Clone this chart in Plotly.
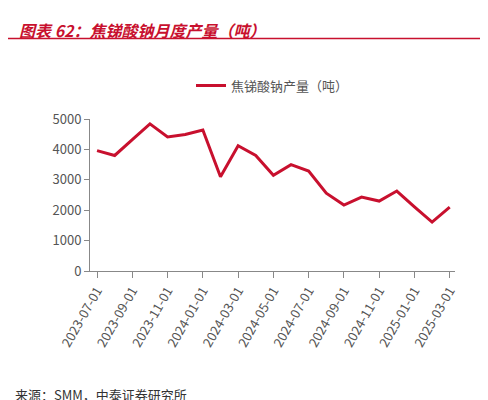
import plotly.graph_objects as go

months = ['2023-07-01', '2023-08-01', '2023-09-01', '2023-10-01', '2023-11-01', '2023-12-01',
          '2024-01-01', '2024-02-01', '2024-03-01', '2024-04-01', '2024-05-01', '2024-06-01',
          '2024-07-01', '2024-08-01', '2024-09-01', '2024-10-01', '2024-11-01', '2024-12-01',
          '2025-01-01', '2025-02-01', '2025-03-01']
output = [3960, 3800, 4320, 4840, 4410, 4490, 4640, 3100, 4120, 3800, 3150, 3500,
          3290, 2560, 2170, 2430, 2300, 2630, 2110, 1610, 2100]
tick_labels = months[::2]

fig = go.Figure()
fig.add_trace(go.Scatter(
    x=months, y=output, mode='lines', name='焦锑酸钠产量（吨）',
    line=dict(color='#C8102E', width=3)
))

fig.update_xaxes(
    type='category', tickvals=tick_labels, ticktext=tick_labels, tickangle=-60,
    showline=True, linecolor='#888', ticks='outside', tickcolor='#888', ticklen=6,
    showgrid=False, range=[-0.4, 20.3], tickfont=dict(size=13, color='#555'),
    automargin=False
)
fig.update_yaxes(
    range=[0, 5000], dtick=1000, showline=True, linecolor='#888', ticks='outside',
    tickcolor='#888', ticklen=5, showgrid=False, tickfont=dict(size=13, color='#555'),
    zeroline=False, automargin=False
)

fig.add_annotation(text='<b><i>图表 62：焦锑酸钠月度产量（吨）</i></b>', xref='paper', yref='paper',
                   x=-0.2, y=1.68, xanchor='left', yanchor='top', showarrow=False,
                   font=dict(size=16, color='#C8102E', family='Noto Sans CJK SC'))
fig.add_shape(type='line', xref='paper', yref='paper', x0=-0.23, x1=1.12, y0=1.53, y1=1.53,
              line=dict(color='#C8102E', width=1.5))
fig.add_annotation(text='来源：SMM，中泰证券研究所', xref='paper', yref='paper',
                   x=-0.21, y=-0.81, xanchor='left', yanchor='middle', showarrow=False,
                   font=dict(size=13, color='#333', family='Noto Sans CJK SC'))

fig.update_layout(
    width=488, height=400, plot_bgcolor='white', paper_bgcolor='white',
    margin=dict(l=82, r=41, t=111, b=137, autoexpand=False),
    font=dict(family='Noto Sans CJK SC', color='#555'),
    showlegend=True,
    legend=dict(orientation='h', x=0.5, xanchor='center', y=1.22, yanchor='middle',
                font=dict(size=13, color='#555'))
)

fig.write_html('out.html')
